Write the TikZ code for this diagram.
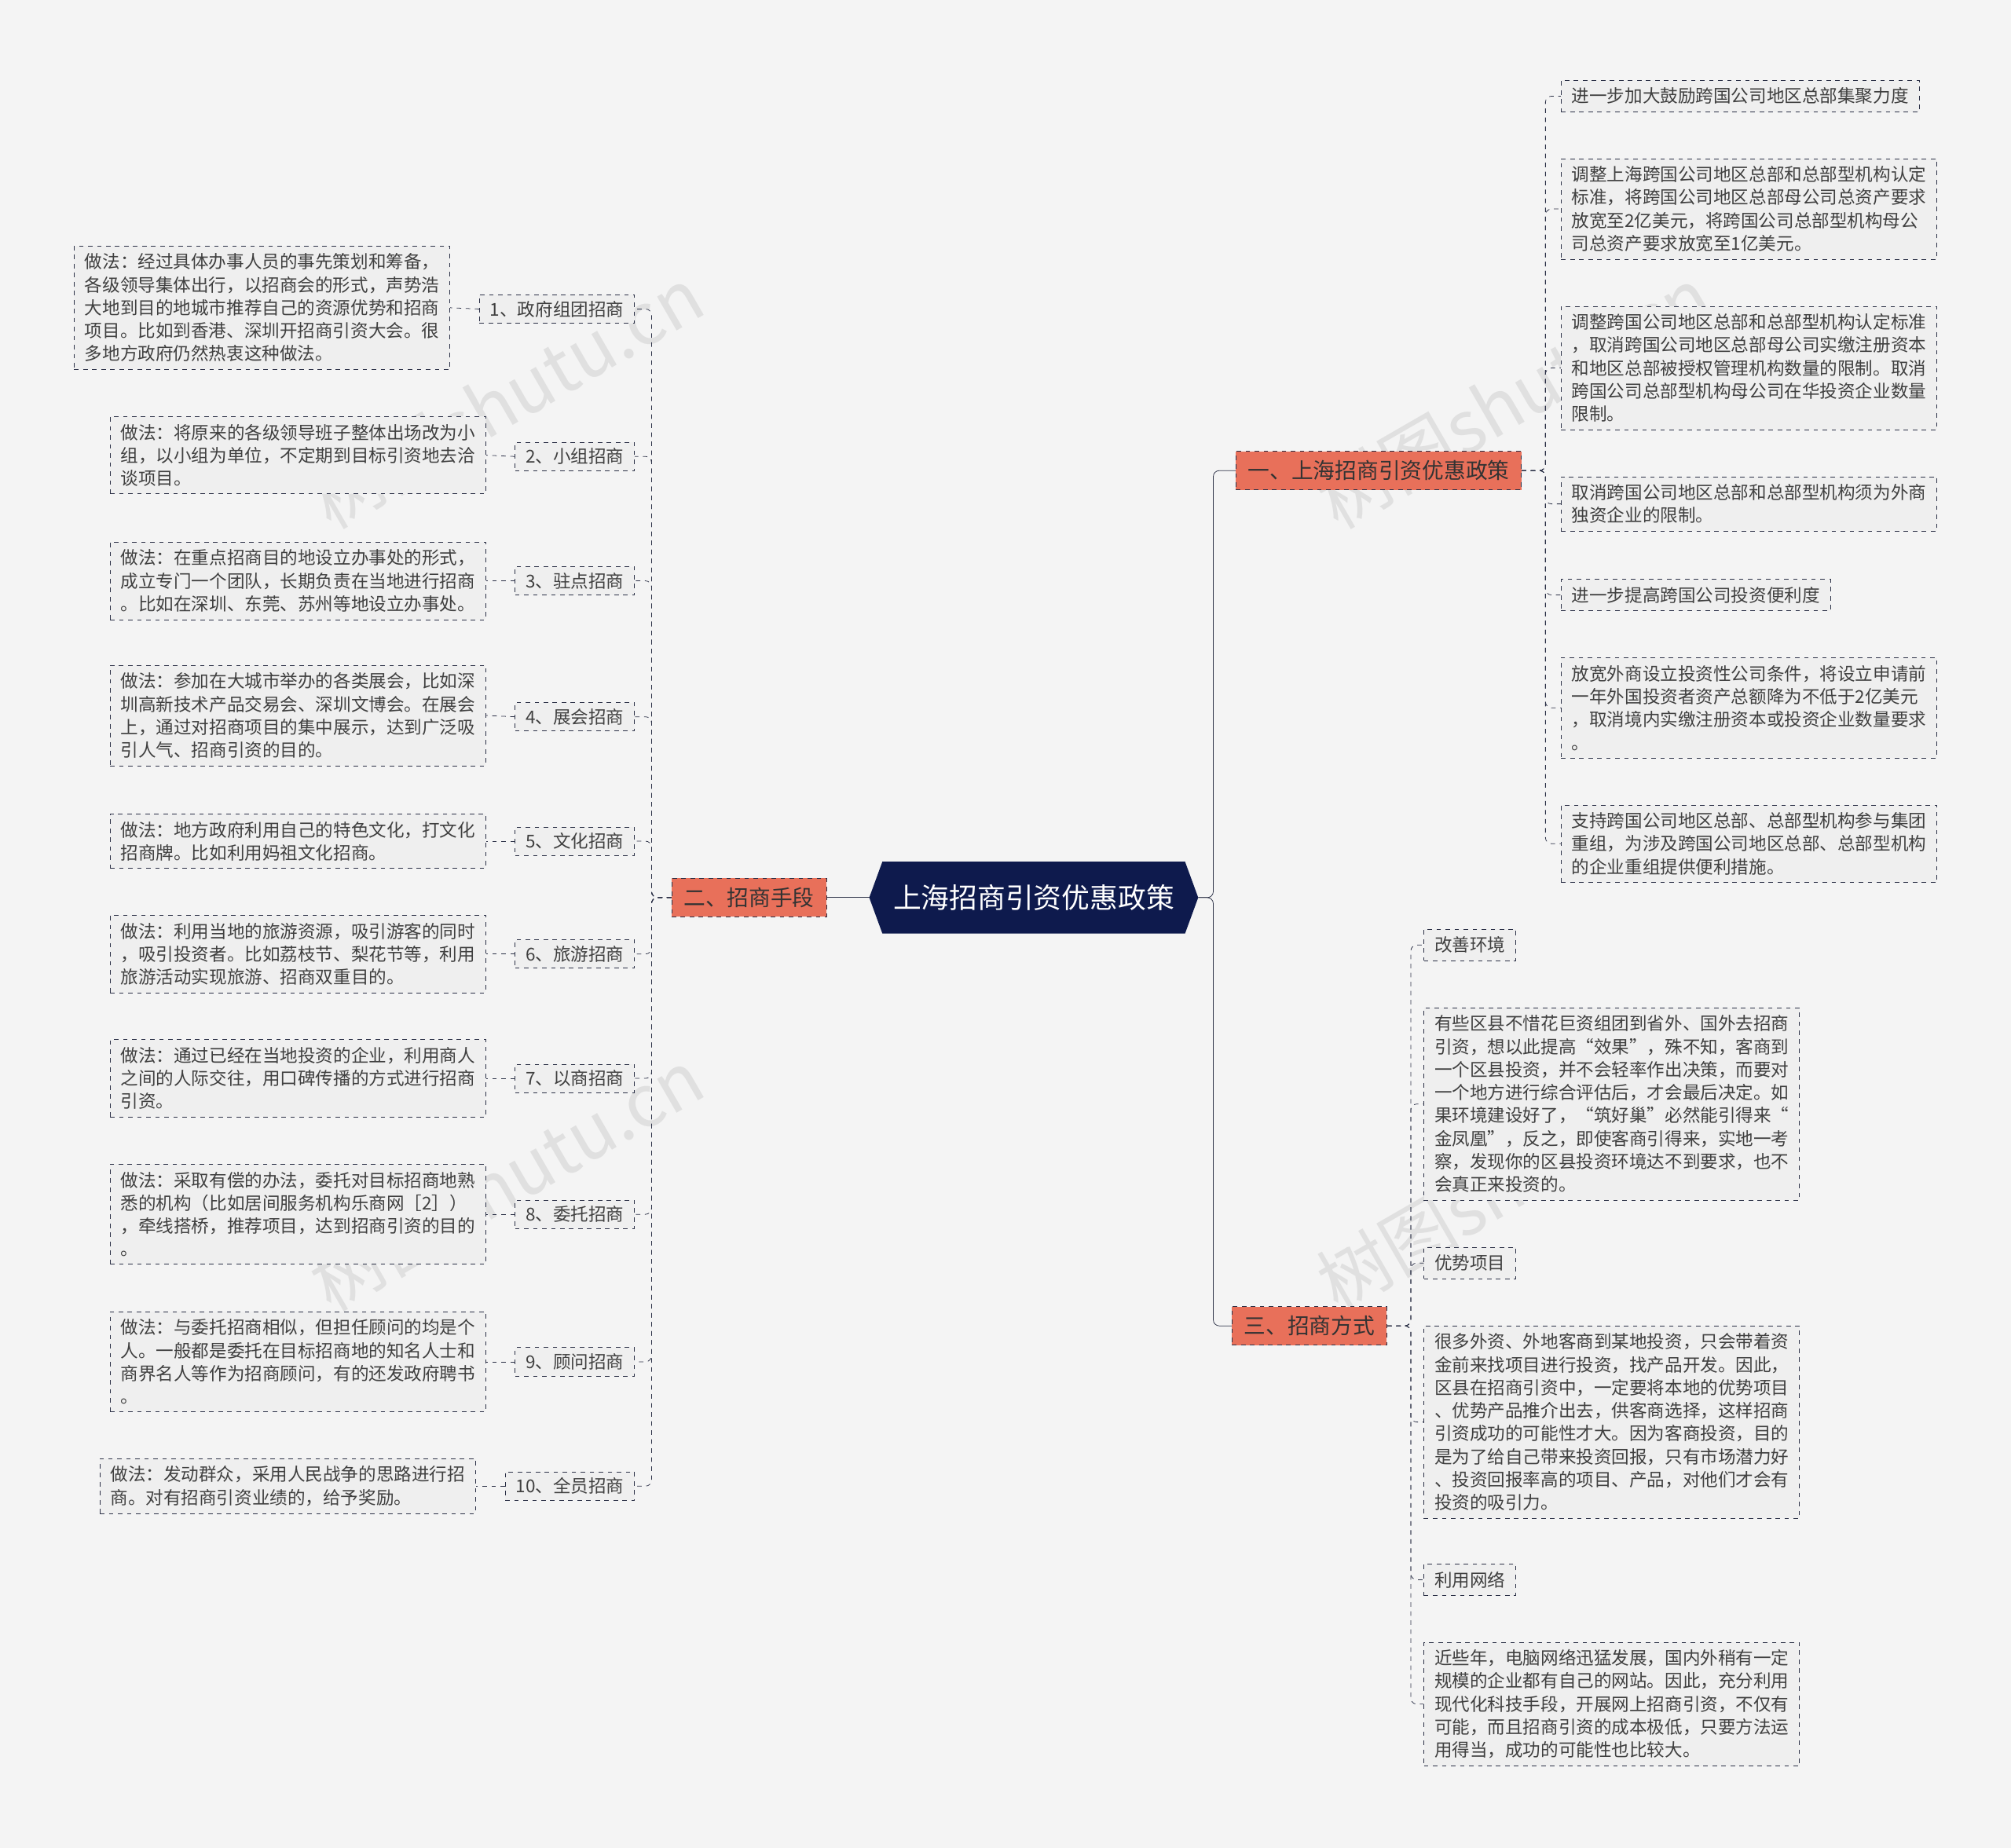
\documentclass[tikz,border=0pt]{standalone}
\usepackage{fontspec}
\setmainfont{Noto Sans CJK SC}
\usetikzlibrary{calc}
\definecolor{bgc}{HTML}{F4F4F4}
\definecolor{leafc}{HTML}{EFEFEF}
\definecolor{linec}{HTML}{2B3046}
\definecolor{rootc}{HTML}{0E1A4D}
\definecolor{branchc}{HTML}{E8705A}
\tikzset{
  leaf/.style={draw=linec,dashed,fill=leafc,align=left,inner xsep=7pt,inner ysep=5pt,
    font=\fontsize{11.8}{15.3}\selectfont,text=black!75},
  sub/.style={leaf,inner ysep=4pt},
  branch/.style={draw=linec,dashed,fill=branchc,inner xsep=8pt,inner ysep=6pt,
    font=\fontsize{14.5}{17}\selectfont,text=black!80},
  conn/.style={draw=linec,dashed,thin,rounded corners=4pt},
  wm/.style={text=black!12,font=\fontsize{48}{50}\selectfont,rotate=30}
}
\begin{document}
\begin{tikzpicture}[x=0.03cm,y=-0.03cm]
  \fill[bgc] (0,0) rectangle (1568,1441);
  \useasboundingbox (0,0) rectangle (1568,1441);

  % watermarks
  \node[wm] (w1) at (395,310) {树图shutu.cn};
  \node[wm] (w2) at (395,920) {树图shutu.cn};
  \node[wm] (w3) at (1180,310) {树图shutu.cn};
  \node[wm] (w4) at (1180,920) {树图shutu.cn};

  % root
  \node[text=white,font=\fontsize{18.7}{22}\selectfont,minimum width=7.68cm,minimum height=1.68cm] (root) at (806,700) {上海招商引资优惠政策};
  \fill[rootc] ($(root.west)+(0,0)$) -- (688,672) -- (924,672) -- (root.east) -- (924,728) -- (688,728) -- cycle;
  \node[text=white,font=\fontsize{18.7}{22}\selectfont] at (root) {上海招商引资优惠政策};

  % branches
  \node[branch] (b1) at (1075,367) {一、上海招商引资优惠政策};
  \node[branch] (b2) at (584,700) {二、招商手段};
  \node[branch] (b3) at (1021,1034) {三、招商方式};
  \draw[linec,thin,rounded corners=4pt] (root.east) -- (946,700) |- (b1.west);
  \draw[linec,thin,rounded corners=4pt] (root.east) -- (946,700) |- (b3.west);
  \draw[linec,thin] (root.west) -- (b2.east);

  % branch 1 leaves
  \node[leaf,anchor=west] (r1) at (1217,75) {进一步加大鼓励跨国公司地区总部集聚力度};
  \node[leaf,anchor=west] (r2) at (1217,163) {调整上海跨国公司地区总部和总部型机构认定\\标准，将跨国公司地区总部母公司总资产要求\\放宽至2亿美元，将跨国公司总部型机构母公\\司总资产要求放宽至1亿美元。};
  \node[leaf,anchor=west] (r3) at (1217,287) {调整跨国公司地区总部和总部型机构认定标准\\，取消跨国公司地区总部母公司实缴注册资本\\和地区总部被授权管理机构数量的限制。取消\\跨国公司总部型机构母公司在华投资企业数量\\限制。};
  \node[leaf,anchor=west] (r4) at (1217,393) {取消跨国公司地区总部和总部型机构须为外商\\独资企业的限制。};
  \node[leaf,anchor=west] (r5) at (1217,464) {进一步提高跨国公司投资便利度};
  \node[leaf,anchor=west] (r6) at (1217,552) {放宽外商设立投资性公司条件，将设立申请前\\一年外国投资者资产总额降为不低于2亿美元\\，取消境内实缴注册资本或投资企业数量要求\\。};
  \node[leaf,anchor=west] (r7) at (1217,658) {支持跨国公司地区总部、总部型机构参与集团\\重组，为涉及跨国公司地区总部、总部型机构\\的企业重组提供便利措施。};
  \foreach \i in {1,...,7}{
    \draw[conn] (b1.east) -- (1205,367) |- (r\i.west);
  }

  % branch 3 leaves
  \node[leaf,anchor=west] (t1) at (1110,737) {改善环境};
  \node[leaf,anchor=west] (t2) at (1110,861) {有些区县不惜花巨资组团到省外、国外去招商\\引资，想以此提高“效果”，殊不知，客商到\\一个区县投资，并不会轻率作出决策，而要对\\一个地方进行综合评估后，才会最后决定。如\\果环境建设好了，“筑好巢”必然能引得来“\\金凤凰”，反之，即使客商引得来，实地一考\\察，发现你的区县投资环境达不到要求，也不\\会真正来投资的。};
  \node[leaf,anchor=west] (t3) at (1110,985) {优势项目};
  \node[leaf,anchor=west] (t4) at (1110,1109) {很多外资、外地客商到某地投资，只会带着资\\金前来找项目进行投资，找产品开发。因此，\\区县在招商引资中，一定要将本地的优势项目\\、优势产品推介出去，供客商选择，这样招商\\引资成功的可能性才大。因为客商投资，目的\\是为了给自己带来投资回报，只有市场潜力好\\、投资回报率高的项目、产品，对他们才会有\\投资的吸引力。};
  \node[leaf,anchor=west] (t5) at (1110,1232) {利用网络};
  \node[leaf,anchor=west] (t6) at (1110,1329) {近些年，电脑网络迅猛发展，国内外稍有一定\\规模的企业都有自己的网站。因此，充分利用\\现代化科技手段，开展网上招商引资，不仅有\\可能，而且招商引资的成本极低，只要方法运\\用得当，成功的可能性也比较大。};
  \foreach \i in {1,...,6}{
    \draw[conn] (b3.east) -- (1100,1034) |- (t\i.west);
  }

  % branch 2 subs and leaves
  \foreach \i/\y/\txt in {1/241/1、政府组团招商,2/356/2、小组招商,3/453/3、驻点招商,4/559/4、展会招商,5/656/5、文化招商,6/744/6、旅游招商,7/841/7、以商招商,8/947/8、委托招商,9/1062/9、顾问招商,10/1159/10、全员招商}{
    \node[sub,anchor=east] (s\i) at (495,\y) {\txt};
    \draw[conn] (b2.west) -- (508,700) |- (s\i.east);
  }
  \node[leaf,anchor=east] (m1) at (351,240) {做法：经过具体办事人员的事先策划和筹备，\\各级领导集体出行，以招商会的形式，声势浩\\大地到目的地城市推荐自己的资源优势和招商\\项目。比如到香港、深圳开招商引资大会。很\\多地方政府仍然热衷这种做法。};
  \node[leaf,anchor=east] (m2) at (379,355) {做法：将原来的各级领导班子整体出场改为小\\组，以小组为单位，不定期到目标引资地去洽\\谈项目。};
  \node[leaf,anchor=east] (m3) at (379,453) {做法：在重点招商目的地设立办事处的形式，\\成立专门一个团队，长期负责在当地进行招商\\。比如在深圳、东莞、苏州等地设立办事处。};
  \node[leaf,anchor=east] (m4) at (379,558) {做法：参加在大城市举办的各类展会，比如深\\圳高新技术产品交易会、深圳文博会。在展会\\上，通过对招商项目的集中展示，达到广泛吸\\引人气、招商引资的目的。};
  \node[leaf,anchor=east] (m5) at (379,656) {做法：地方政府利用自己的特色文化，打文化\\招商牌。比如利用妈祖文化招商。};
  \node[leaf,anchor=east] (m6) at (379,744) {做法：利用当地的旅游资源，吸引游客的同时\\，吸引投资者。比如荔枝节、梨花节等，利用\\旅游活动实现旅游、招商双重目的。};
  \node[leaf,anchor=east] (m7) at (379,841) {做法：通过已经在当地投资的企业，利用商人\\之间的人际交往，用口碑传播的方式进行招商\\引资。};
  \node[leaf,anchor=east] (m8) at (379,947) {做法：采取有偿的办法，委托对目标招商地熟\\悉的机构（比如居间服务机构乐商网［2］）\\，牵线搭桥，推荐项目，达到招商引资的目的\\。};
  \node[leaf,anchor=east] (m9) at (379,1062) {做法：与委托招商相似，但担任顾问的均是个\\人。一般都是委托在目标招商地的知名人士和\\商界名人等作为招商顾问，有的还发政府聘书\\。};
  \node[leaf,anchor=east] (m10) at (371,1159) {做法：发动群众，采用人民战争的思路进行招\\商。对有招商引资业绩的，给予奖励。};
  \foreach \i in {1,...,10}{
    \draw[conn] (s\i.west) -- (m\i.east);
  }
\end{tikzpicture}
\end{document}
